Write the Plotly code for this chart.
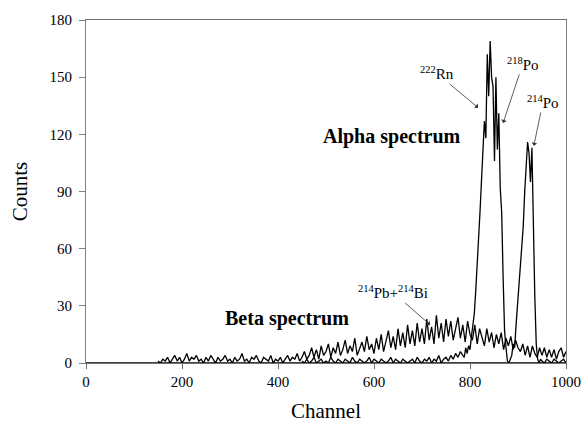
import plotly.graph_objects as go

# ---- data ----
beta_channels = list(range(150, 1001, 5))
beta_counts = [
    1, 0, 2, 1, 3, 0, 2, 4, 1, 3, 0, 2, 5, 1, 3, 2, 4, 1, 2, 0, 3, 1, 4, 2, 0, 3, 1, 2, 4, 1, 2,
    0, 3, 1, 2, 5, 1, 2, 0, 3, 2, 4, 1, 0, 3, 2, 1, 4, 0, 2, 1, 3, 0, 2, 4, 1, 3, 2, 5, 1, 3,
    6, 2, 4, 8, 3, 7, 2, 9, 4, 6, 10, 3, 8, 5, 11, 4, 7, 12, 5, 9, 6, 13, 4, 8, 11, 6, 14, 7, 10, 5,
    13, 7, 15, 6, 12, 17, 8, 14, 7, 18, 9, 16, 8, 20, 10, 17, 9, 21, 11, 18, 10, 23, 12, 19, 10, 25, 13, 21, 11, 23,
    14, 22, 12, 19, 24, 13, 20, 11, 22, 15, 12, 20, 10, 18, 13, 9, 18, 11, 16, 8, 15, 10, 16, 7, 13, 9, 14, 7, 12, 8,
    6, 10, 4, 9, 3, 9, 5, 3, 8, 4, 8, 3, 7, 3, 7, 2, 6, 8, 3, 6,
]

alpha_channels = [
    450, 455, 460, 465, 470, 475, 480, 485, 490, 495, 500, 505, 510, 515, 520, 525, 530, 535, 540, 545,
    550, 555, 560, 565, 570, 575, 580, 585, 590, 595, 600, 605, 610, 615, 620, 625, 630, 635, 640, 645,
    650, 655, 660, 665, 670, 675, 680, 685, 690, 695, 700, 705, 710, 715, 720, 725, 730, 735, 740, 745,
    750, 755, 760, 765, 770, 775, 780, 785,
    788, 791, 794, 797, 800, 803, 806, 809, 812, 815, 818, 821, 824, 827, 830, 833, 836, 839, 842, 845,
    848, 851, 854, 857, 860, 863, 866, 869, 872, 875, 878, 881, 884, 887, 890, 893, 896, 899, 902, 905,
    908, 911, 914, 917, 920, 923, 926, 929, 932, 935, 938, 941, 944, 947,
    950, 955, 960, 965, 970, 975, 980, 985, 990, 995, 1000,
]
alpha_counts = [
    1, 0, 2, 0, 1, 3, 0, 1, 2, 0, 1, 0, 3, 1, 0, 2, 1, 0, 2, 1,
    0, 3, 1, 0, 2, 1, 0, 1, 3, 0, 2, 1, 0, 2, 1, 0, 1, 3, 0, 2,
    1, 0, 2, 1, 0, 1, 2, 0, 3, 1, 0, 2, 1, 3, 0, 2, 1, 4, 0, 2,
    3, 1, 4, 2, 5, 3, 6, 4,
    3, 8, 5, 9, 7, 14, 19, 26, 38, 50, 64, 80, 96, 110, 127, 118, 162, 140, 169, 150,
    145, 106, 150, 112, 131, 92, 79, 45, 17, 8, 1, 0, 2, 4, 10, 8, 20, 30, 38, 48,
    60, 72, 90, 105, 116, 110, 95, 113, 70, 35, 10, 2, 0, 2,
    1, 0, 2, 1, 0, 2, 1, 0, 1, 2, 0,
]

x_ticks = [0, 200, 400, 600, 800, 1000]
y_ticks = [0, 30, 60, 90, 120, 150, 180]

SERIF = "Liberation Serif, Times New Roman, serif"

fig = go.Figure()
fig.add_trace(go.Scatter(x=beta_channels, y=beta_counts, mode="lines",
                         line=dict(color="black", width=1.3), showlegend=False))
fig.add_trace(go.Scatter(x=alpha_channels, y=alpha_counts, mode="lines",
                         line=dict(color="black", width=1.3), showlegend=False))

# dark baseline at zero
fig.add_shape(type="line", x0=0, x1=1000, y0=0, y1=0, xref="x", yref="y",
              line=dict(color="black", width=1.5), layer="above")

arrow = dict(showarrow=True, arrowhead=1, arrowsize=1.2, arrowwidth=0.8,
             arrowcolor="#333333", axref="x", ayref="y",
             font=dict(family=SERIF, size=15, color="black"))

fig.add_annotation(x=817, y=134, ax=731, ay=152, text="<sup>222</sup>Rn", **arrow)
fig.add_annotation(x=869, y=126, ax=910, ay=157, text="<sup>218</sup>Po", **arrow)
fig.add_annotation(x=933, y=114, ax=952, ay=137, text="<sup>214</sup>Po", **arrow)
fig.add_annotation(x=717, y=20, ax=640, ay=37, text="<sup>214</sup>Pb+<sup>214</sup>Bi", **arrow)

fig.add_annotation(x=637, y=119, text="<b>Alpha spectrum</b>", showarrow=False,
                   font=dict(family=SERIF, size=20, color="black"))
fig.add_annotation(x=419, y=23.5, text="<b>Beta spectrum</b>", showarrow=False,
                   font=dict(family=SERIF, size=20, color="black"))

# axis titles
fig.add_annotation(xref="paper", yref="paper", x=-0.138, y=0.5, text="Counts",
                   textangle=-90, showarrow=False, xanchor="center", yanchor="middle",
                   font=dict(family=SERIF, size=21, color="black"))
fig.add_annotation(xref="paper", yref="paper", x=0.5, y=-0.14, text="Channel",
                   showarrow=False, xanchor="center", yanchor="middle",
                   font=dict(family=SERIF, size=21, color="black"))

fig.update_layout(
    width=583, height=432,
    margin=dict(l=86, r=17, t=20, b=69, autoexpand=False),
    paper_bgcolor="white", plot_bgcolor="white",
    font=dict(family=SERIF, size=15, color="black"),
    xaxis=dict(range=[0, 1000], tickvals=x_ticks, ticks="outside", ticklen=5,
               showgrid=False, zeroline=False, showline=True, linecolor="#707070",
               linewidth=1, mirror=True, tickcolor="#707070", automargin=False),
    yaxis=dict(range=[0, 180], tickvals=y_ticks, ticks="outside", ticklen=6,
               ticklabelstandoff=4,
               showgrid=False, zeroline=False, showline=True, linecolor="#808080",
               linewidth=1, mirror=True, tickcolor="#808080", automargin=False),
)

fig.write_html("out.html", config={"displayModeBar": False},
               post_script="document.body.style.margin='0';")
